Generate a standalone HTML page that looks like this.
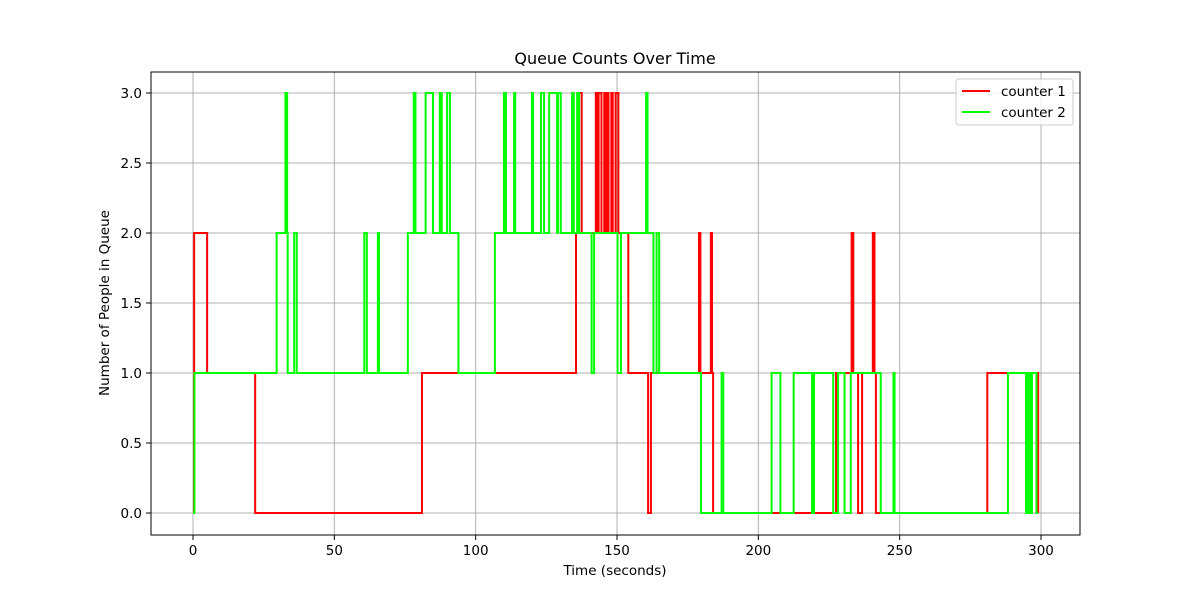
<!DOCTYPE html>
<html><head><meta charset="utf-8"><style>
body{margin:0;background:#fff;}
svg text{font-family:"DejaVu Sans","Liberation Sans",sans-serif;fill:#000;}
</style></head><body>
<svg id="chart" width="1200" height="600" xmlns="http://www.w3.org/2000/svg">
<rect x="0" y="0" width="1200" height="600" fill="#fff"/>
<g id="grid"></g>
<g id="series"></g>
<rect x="151" y="72" width="929" height="463" fill="none" stroke="#000" stroke-width="1"/>
<g id="ticks"></g>
<text x="615" y="64" font-size="16" text-anchor="middle">Queue Counts Over Time</text>
<text x="615" y="575" font-size="13.5" text-anchor="middle">Time (seconds)</text>
<text x="109" y="303" font-size="13.5" text-anchor="middle" transform="rotate(-90 109 303)">Number of People in Queue</text>
<g>
<rect x="956" y="79" width="117" height="46" rx="3" fill="#fff" fill-opacity="0.8" stroke="#ccc"/>
<g><line x1="962" y1="91" x2="990" y2="91" stroke="#ff0000" stroke-width="2"/><text x="1001" y="96" font-size="13.5">counter 1</text></g>
<g><line x1="962" y1="112" x2="990" y2="112" stroke="#00ff00" stroke-width="2"/><text x="1001" y="117" font-size="13.5">counter 2</text></g>
</g>
</svg>
<script>
const xTicks=[0,50,100,150,200,250,300];
const yTicks=[0,0.5,1,1.5,2,2.5,3];
const c1Times=[0,0.4,5,22,81,135.5,136.5,137.5,142.5,143,143.5,144.5,145.5,146,146.5,147,148,148.5,149.5,150.5,154,161,162,179,179.5,183.2,183.6,184,227.5,233,233.6,235.3,236.7,240.5,241.1,241.6,281,299];
const c1Vals =[0,2,1,0,1,2,3,2,3,2,3,2,3,2,3,2,3,2,3,2,1,0,1,2,1,2,1,0,1,2,1,0,1,2,1,0,1,0];
const c2Times=[0,0.5,29.6,32.7,33.3,33.5,35.8,36.7,60.6,61.5,65.4,65.8,76,78.1,78.7,82.3,84.9,87.3,88,89.9,90.9,93.9,106.8,110,110.7,113.6,114,119.9,120.3,123.1,124.2,126,128.8,129.1,130.1,134.1,134.7,135.9,136.6,141,141.9,150.2,151.4,160.3,160.8,162.9,164,164.9,179.7,187,187.6,204.7,207.8,212.5,219,219.7,226.5,228.2,230.5,232.7,243.3,247.8,248.2,288.3,294.7,295.4,296.1,296.8,298.4,299];
const c2Vals =[0,1,2,3,2,1,2,1,2,1,2,1,2,3,2,3,2,3,2,3,2,1,2,3,2,3,2,3,2,3,2,3,2,3,2,3,2,3,2,1,2,1,2,3,2,1,2,1,0,1,0,1,0,1,0,1,0,1,0,1,0,1,0,1,0,1,0,1,0,0];
const X=t=>193+t*(1041-193)/300;
const Y=v=>513-v*140;
const NS='http://www.w3.org/2000/svg';
const grid=document.getElementById('grid'),ticks=document.getElementById('ticks'),series=document.getElementById('series');
function mk(tag,attrs,parent){const e=document.createElementNS(NS,tag);for(const k in attrs)e.setAttribute(k,attrs[k]);parent.appendChild(e);return e;}
xTicks.forEach(t=>{
 const g=mk('line',{x1:X(t),x2:X(t),y1:72,y2:535,stroke:'#b0b0b0','stroke-width':1},grid);
 
 
 const tk=mk('line',{x1:X(t),x2:X(t),y1:535,y2:540,stroke:'#000'},ticks);
 
 
 const tx=mk('text',{x:X(t),y:555,'font-size':13.5,'text-anchor':'middle'},ticks);tx.textContent=t;
 
 
});
yTicks.forEach(v=>{
 const g=mk('line',{x1:151,x2:1080,y1:Y(v),y2:Y(v),stroke:'#b0b0b0','stroke-width':1},grid);
 
 
 const tk=mk('line',{x1:146,x2:151,y1:Y(v),y2:Y(v),stroke:'#000'},ticks);
 
 
 const tx=mk('text',{x:142,y:Y(v)+5,'font-size':13.5,'text-anchor':'end'},ticks);tx.textContent=v.toFixed(1);
 
 
});
function stepPath(ts,vs){let d='M'+X(ts[0])+','+Y(vs[0]);for(let i=1;i<ts.length;i++){d+=' H'+X(ts[i])+' V'+Y(vs[i]);}return d;}
const p1=mk('path',{d:stepPath(c1Times,c1Vals),fill:'none',stroke:'#ff0000','stroke-width':2},series);


const p2=mk('path',{d:stepPath(c2Times,c2Vals),fill:'none',stroke:'#00ff00','stroke-width':2},series);


</script>
</body></html>
